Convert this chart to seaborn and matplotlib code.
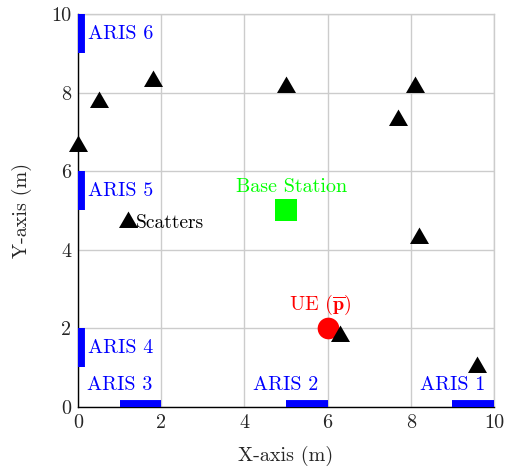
import matplotlib
matplotlib.use("Agg")
import matplotlib.pyplot as plt
import seaborn as sns
import pandas as pd

# Scatterer positions (m)
scatter_x = [0.0, 0.5, 1.8, 5.0, 8.1, 7.7, 1.2, 8.2, 6.3, 9.6]
scatter_y = [6.65, 7.75, 8.3, 8.15, 8.15, 7.3, 4.7, 4.3, 1.8, 1.0]

# Base station and user equipment positions (m)
bs_x, bs_y = [5.0], [5.0]
ue_x, ue_y = [6.0], [2.0]

# ARIS panels: name, wall ("left" -> x=0, "bottom" -> y=0), start and end along the wall
aris_names = ["ARIS 1", "ARIS 2", "ARIS 3", "ARIS 4", "ARIS 5", "ARIS 6"]
aris_wall = ["bottom", "bottom", "bottom", "left", "left", "left"]
aris_start = [9.0, 5.0, 1.0, 1.0, 5.0, 9.0]
aris_end = [10.0, 6.0, 2.0, 2.0, 6.0, 10.0]

ticks = [0, 2, 4, 6, 8, 10]

sns.set_theme(style="white")
plt.rcParams["font.family"] = ["cmr10", "DejaVu Serif"]
plt.rcParams["mathtext.fontset"] = "cm"
plt.rcParams["axes.formatter.use_mathtext"] = True

fig = plt.figure(figsize=(5.05, 4.68), dpi=100)
ax = fig.add_axes([0.1545, 0.131, 0.8235, 0.839])

FS = 14.5
BLUE = "#0000ff"

# ARIS panels as thick segments hugging the walls (half clipped by the axes)
for name, wall, a, b in zip(aris_names, aris_wall, aris_start, aris_end):
    if wall == "left":
        ax.plot([0, 0], [a, b], color=BLUE, lw=10, solid_capstyle="butt", zorder=4)
        ax.annotate(name, xy=(0, (a + b) / 2), xytext=(7, 0), textcoords="offset points",
                    ha="left", va="center", color=BLUE, fontsize=FS)
    else:
        ax.plot([a, b], [0, 0], color=BLUE, lw=10, solid_capstyle="butt", zorder=4)
        ax.annotate(name, xy=(a, 0), xytext=(0, 15.5), textcoords="offset points",
                    ha="center", va="center", color=BLUE, fontsize=FS)

df_sc = pd.DataFrame({"x": scatter_x, "y": scatter_y})
sns.scatterplot(data=df_sc, x="x", y="y", marker=(3, 0, 0), s=15.8 ** 2, color="black",
                edgecolor="black", linewidth=0, ax=ax, zorder=6, clip_on=False)

df_bs = pd.DataFrame({"x": bs_x, "y": bs_y})
sns.scatterplot(data=df_bs, x="x", y="y", marker="s", s=15.8 ** 2, color="#00ff00",
                edgecolor="#00ff00", linewidth=0, ax=ax, zorder=5)

df_ue = pd.DataFrame({"x": ue_x, "y": ue_y})
sns.scatterplot(data=df_ue, x="x", y="y", marker="o", s=15.6 ** 2, color="#ff0000",
                edgecolor="#ff0000", linewidth=0, ax=ax, zorder=5)

ax.annotate("Base Station", xy=(bs_x[0], bs_y[0]), xytext=(4, 17), textcoords="offset points",
            ha="center", va="center", color="#00ff00", fontsize=FS)
ax.annotate(r"UE ($\overline{\mathbf{p}}$)", xy=(ue_x[0], ue_y[0]), xytext=(-5, 17),
            textcoords="offset points", ha="center", va="center", color="#ff0000", fontsize=FS)
ax.annotate("Scatters", xy=(scatter_x[6], scatter_y[6]), xytext=(6, -1), textcoords="offset points",
            ha="left", va="center", color="black", fontsize=FS - 0.5)

ax.set_xlim(0, 10)
ax.set_ylim(0, 10)
ax.set_xticks(ticks)
ax.set_yticks(ticks)
ax.set_xticklabels([str(t) for t in ticks], fontsize=FS)
ax.set_yticklabels([str(t) for t in ticks], fontsize=FS)
ax.tick_params(direction="in", length=3, color="#bbbbbb", pad=5)
ax.grid(True, color="#cccccc", linewidth=1.0)
ax.set_axisbelow(True)

for side in ["top", "right"]:
    ax.spines[side].set_color("#cccccc")
    ax.spines[side].set_linewidth(1.0)
for side in ["left", "bottom"]:
    ax.spines[side].set_color("black")
    ax.spines[side].set_linewidth(1.0)
    ax.spines[side].set_zorder(3)

ax.set_xlabel("X-axis (m)", fontsize=FS, labelpad=10)
ax.set_ylabel("Y-axis (m)", fontsize=FS, labelpad=14)

fig.savefig("out.png", dpi=100)
